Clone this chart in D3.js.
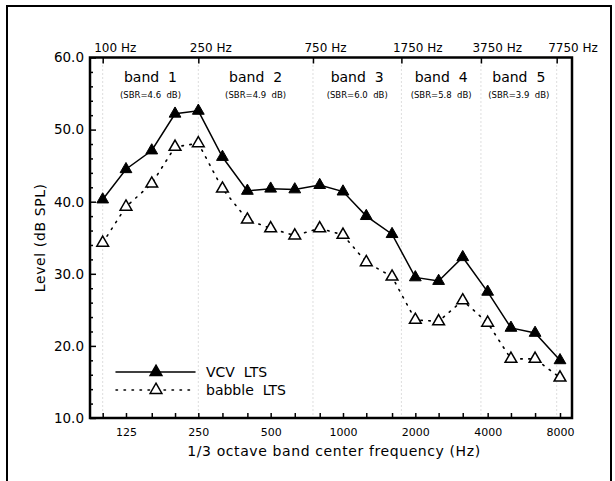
<!DOCTYPE html>
<html>
<head>
<meta charset="utf-8">
<script src="https://cdn.jsdelivr.net/npm/d3@7"></script>
<style>
  body { margin: 0; background: #fff; }
  svg text { font-family: "DejaVu Sans", sans-serif; fill: #000; }
</style>
</head>
<body>
<svg id="chart" width="615" height="481"></svg>
<script>
// 1/3 octave band centres (Hz)
var freqs = [100,125,160,200,250,315,400,500,630,800,1000,1250,1600,2000,2500,3150,4000,5000,6300,8000];
var vcv    = [40.3,44.5,47.1,52.2,52.6,46.2,41.5,41.8,41.7,42.3,41.4,38.0,35.5,29.5,29.0,32.3,27.5,22.5,21.8,18.0];
var babble = [34.3,39.3,42.5,47.6,48.1,41.8,37.5,36.3,35.3,36.3,35.4,31.6,29.6,23.6,23.4,26.3,23.2,18.2,18.2,15.6];

var xTickLabels = [125,250,500,1000,2000,4000,8000];
var yTicks = [10,20,30,40,50,60];
var bandEdges = [100,250,750,1750,3750,7750];
var bandNames = ["band 1","band 2","band 3","band 4","band 5"];
var bandSBR = ["(SBR=4.6  dB)","(SBR=4.9  dB)","(SBR=6.0  dB)","(SBR=5.8  dB)","(SBR=3.9  dB)"];

var svg = d3.select("#chart");

// outer frame (runs off the page at the bottom)
svg.append("rect")
  .attr("x",7).attr("y",6).attr("width",604).attr("height",500)
  .attr("fill","none").attr("stroke","#000").attr("stroke-width",2);

var box = {left:90, right:572, top:57.5, bottom:418};

var x = d3.scaleLog().domain([100,8000]).range([102.7,560]);
var y = d3.scaleLinear().domain([10,60]).range([box.bottom,box.top]);

var g = svg.append("g");

// dotted band boundaries
g.selectAll("line.grid")
  .data(bandEdges)
  .enter().append("line")
  .attr("class","grid")
  .attr("x1",d=>x(d)).attr("x2",d=>x(d))
  .attr("y1",box.top).attr("y2",box.bottom)
  .attr("stroke","#bbb").attr("stroke-width",1)
  .attr("stroke-dasharray","1,3");

// top axis: band edges
var topAxis = d3.axisTop(x).tickValues(bandEdges).tickSize(-6).tickPadding(-16)
  .tickFormat(d=>d+" Hz");
var ta = g.append("g").attr("transform","translate(0,"+box.top+")").call(topAxis);
ta.select(".domain").remove();
ta.selectAll("line").attr("stroke-width",1.5);
ta.selectAll("text").attr("font-size",12).attr("text-anchor","start")
  .attr("dx",-9).attr("y",-6);

// bottom axis: every 1/3 octave
var botAxis = d3.axisBottom(x).tickValues(freqs).tickSize(-5).tickPadding(10)
  .tickFormat(d=>xTickLabels.indexOf(d)>=0 ? d : "");
var ba = g.append("g").attr("transform","translate(0,"+box.bottom+")").call(botAxis);
ba.select(".domain").remove();
ba.selectAll("line").attr("stroke-width",1.5);
ba.selectAll("text").attr("font-size",11).attr("y",10);

// left axis: major and minor ticks
var minorY = d3.range(12,60,2).filter(d=>d%10!==0);
var la = g.append("g").attr("transform","translate("+box.left+",0)")
  .call(d3.axisLeft(y).tickValues(yTicks).tickSize(-6).tickPadding(7).tickFormat(d3.format(".1f")));
la.select(".domain").remove();
la.selectAll("line").attr("stroke-width",1.5);
la.selectAll("text").attr("font-size",13.5).attr("x",-6);
g.append("g").attr("transform","translate("+box.left+",0)")
  .call(d3.axisLeft(y).tickValues(minorY).tickSize(-3).tickFormat(""))
  .call(s=>s.select(".domain").remove())
  .selectAll("line").attr("stroke-width",1.5);

// plot box
g.append("rect")
  .attr("x",box.left).attr("y",box.top)
  .attr("width",box.right-box.left).attr("height",box.bottom-box.top)
  .attr("fill","none").attr("stroke","#000").attr("stroke-width",2.5);

// band labels
var bands = bandNames.map((n,i)=>({name:n, sbr:bandSBR[i], lo:bandEdges[i], hi:bandEdges[i+1]}));
bands.forEach(function(b){
  var cx = (x(b.lo)+x(b.hi))/2;
  g.append("text").attr("x",cx).attr("y",82).attr("text-anchor","middle")
    .attr("font-size",14).attr("xml:space","preserve").text(b.name.replace(" ","  "));
  g.append("text").attr("x",cx).attr("y",98).attr("text-anchor","middle")
    .attr("font-size",8.5).attr("xml:space","preserve").text(b.sbr);
});

// series
var tri = d3.symbol().type(d3.symbolTriangle).size(60);
var line = d3.line().x((d,i)=>x(freqs[i])).y(d=>y(d));

g.append("path").datum(babble).attr("d",line)
  .attr("fill","none").attr("stroke","#000").attr("stroke-width",1.6)
  .attr("stroke-dasharray","1.5,6.5").attr("stroke-linecap","round");
g.append("path").datum(vcv).attr("d",line)
  .attr("fill","none").attr("stroke","#000").attr("stroke-width",1.5);

g.selectAll("path.bab").data(babble).enter().append("path")
  .attr("class","bab").attr("d",tri)
  .attr("transform",(d,i)=>"translate("+x(freqs[i])+","+y(d)+")")
  .attr("fill","#fff").attr("stroke","#000").attr("stroke-width",1.5);
g.selectAll("path.vcv").data(vcv).enter().append("path")
  .attr("class","vcv").attr("d",tri)
  .attr("transform",(d,i)=>"translate("+x(freqs[i])+","+y(d)+")")
  .attr("fill","#000").attr("stroke","#000").attr("stroke-width",1);

// legend
var legend = [{label:"VCV LTS", fill:"#000", dash:null, y:372},
              {label:"babble LTS", fill:"#fff", dash:"1.5,6.5", y:390}];
legend.forEach(function(l){
  g.append("line").attr("x1",116).attr("x2",195).attr("y1",l.y).attr("y2",l.y)
    .attr("stroke","#000").attr("stroke-width",1.5)
    .attr("stroke-dasharray",l.dash).attr("stroke-linecap","round");
  g.append("path").attr("d",tri).attr("transform","translate(156,"+l.y+")")
    .attr("fill",l.fill).attr("stroke","#000").attr("stroke-width",1.5);
  g.append("text").attr("x",206).attr("y",l.y+5).attr("font-size",14)
    .attr("xml:space","preserve").text(l.label.replace(" ","  "));
});

// axis titles
g.append("text").attr("x",(box.left+box.right)/2+3).attr("y",456)
  .attr("text-anchor","middle").attr("font-size",14).attr("letter-spacing",0.6)
  .text("1/3 octave band center frequency (Hz)");
g.append("text").attr("transform","translate(45,"+((box.top+box.bottom)/2)+") rotate(-90)")
  .attr("text-anchor","middle").attr("font-size",14).attr("letter-spacing",0.6)
  .text("Level (dB SPL)");
</script>
</body>
</html>
